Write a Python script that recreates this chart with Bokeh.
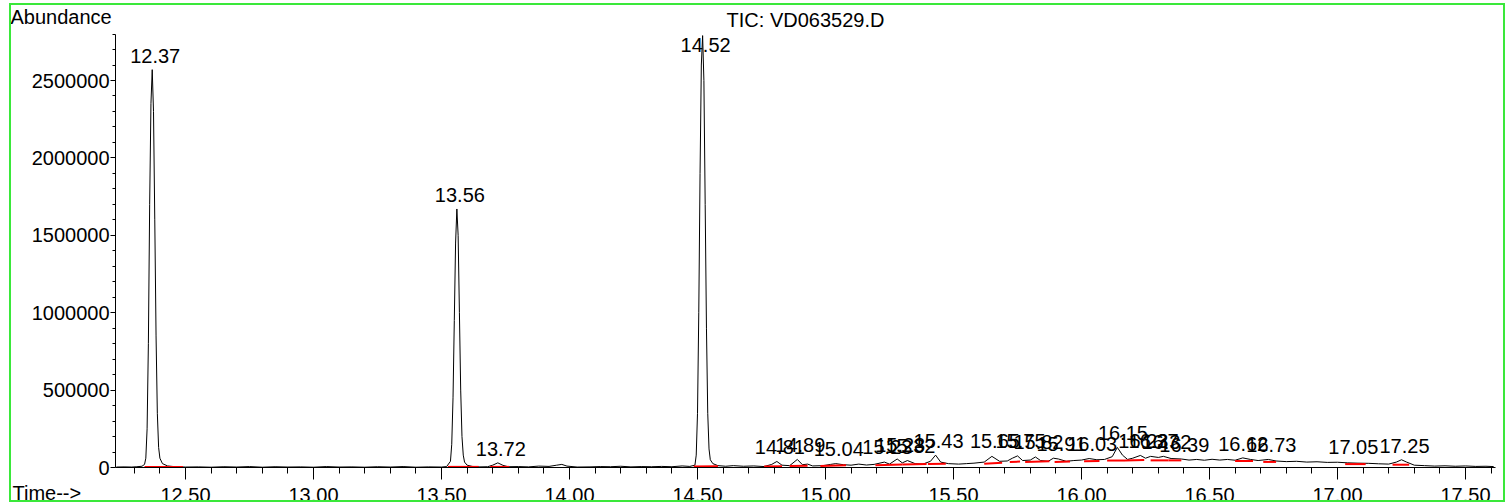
from bokeh.plotting import figure
from bokeh.models import Range1d, FixedTicker, NumeralTickFormatter, InlineStyleSheet
from bokeh.core.properties import value
from bokeh.embed import file_html
from bokeh.resources import INLINE

FONT = "Liberation Sans"
FS = "20px"

# ---------------- data ----------------
title_text = "TIC: VD063529.D"
y_title = "Abundance"
x_title = "Time-->"

x_ticks = [12.5, 13.0, 13.5, 14.0, 14.5, 15.0, 15.5, 16.0, 16.5, 17.0, 17.5]
x_minor = [12.3, 12.4, 12.6, 12.7, 12.8, 12.9, 13.1, 13.2, 13.3, 13.4, 13.6, 13.7, 13.8, 13.9,
           14.1, 14.2, 14.3, 14.4, 14.6, 14.7, 14.8, 14.9, 15.1, 15.2, 15.3, 15.4, 15.6, 15.7,
           15.8, 15.9, 16.1, 16.2, 16.3, 16.4, 16.6, 16.7, 16.8, 16.9, 17.1, 17.2, 17.3, 17.4, 17.6]
y_ticks = [0, 500000, 1000000, 1500000, 2000000, 2500000]
y_minor = [100000, 200000, 300000, 400000, 600000, 700000, 800000, 900000, 1100000, 1200000,
           1300000, 1400000, 1600000, 1700000, 1800000, 1900000, 2100000, 2200000, 2300000,
           2400000, 2600000, 2700000, 2800000]
x_axis_span = (12.227, 17.617)
y_axis_span = (0, 2800000)

trace_time = [12.23, 12.26, 12.29, 12.31, 12.33, 12.34, 12.345, 12.35, 12.355, 12.36, 12.365, 12.37,
              12.375, 12.38, 12.385, 12.39, 12.395, 12.40, 12.41, 12.43, 12.46, 12.50, 12.55, 12.60,
              12.65, 12.70, 12.75, 12.80, 12.85, 12.90, 12.95, 13.00, 13.05, 13.10, 13.15, 13.20,
              13.25, 13.30, 13.35, 13.40, 13.45, 13.50, 13.52, 13.535, 13.54, 13.545, 13.55, 13.555,
              13.56, 13.565, 13.57, 13.575, 13.58, 13.585, 13.59, 13.60, 13.62, 13.65, 13.68, 13.70,
              13.72, 13.74, 13.76, 13.80, 13.84, 13.88, 13.92, 13.95, 13.97, 13.99, 14.03, 14.08,
              14.12, 14.16, 14.20, 14.24, 14.28, 14.32, 14.36, 14.40, 14.44, 14.47, 14.49, 14.495,
              14.50, 14.505, 14.51, 14.515, 14.52, 14.525, 14.53, 14.535, 14.54, 14.545, 14.55, 14.56,
              14.58, 14.61, 14.64, 14.68, 14.72, 14.76, 14.79, 14.81, 14.83, 14.86, 14.89, 14.91,
              14.93, 14.95, 14.99, 15.02, 15.04, 15.07, 15.10, 15.13, 15.16, 15.19, 15.23, 15.25,
              15.28, 15.30, 15.32, 15.35, 15.38, 15.41, 15.43, 15.45, 15.48, 15.52, 15.55, 15.58,
              15.62, 15.65, 15.68, 15.71, 15.73, 15.75, 15.77, 15.80, 15.82, 15.84, 15.87, 15.89,
              15.91, 15.94, 15.97, 16.00, 16.03, 16.06, 16.09, 16.12, 16.14, 16.16, 16.18, 16.20,
              16.23, 16.25, 16.27, 16.30, 16.32, 16.35, 16.39, 16.42, 16.45, 16.48, 16.51, 16.54,
              16.57, 16.60, 16.63, 16.66, 16.69, 16.73, 16.76, 16.80, 16.84, 16.88, 16.92, 16.96,
              17.00, 17.04, 17.08, 17.12, 17.16, 17.20, 17.23, 17.25, 17.27, 17.30, 17.34, 17.38,
              17.42, 17.46, 17.50, 17.54, 17.58, 17.61]
trace_abund = [3000, 4000, 3000, 5000, 8000, 20000, 60000, 250000, 800000, 1700000, 2350000, 2570000,
               2300000, 1600000, 850000, 350000, 130000, 60000, 25000, 10000, 5000, 3000, 4000, 2000,
               5000, 3000, 6000, 2000, 5000, 3000, 4000, 2000, 6000, 3000, 4000, 2000,
               5000, 3000, 6000, 2000, 4000, 3000, 6000, 40000, 150000, 450000, 950000, 1450000,
               1670000, 1500000, 1000000, 500000, 200000, 80000, 35000, 15000, 7000, 4000, 5000, 15000,
               30000, 14000, 5000, 6000, 4000, 9000, 7000, 15000, 20000, 9000, 3000, 4000,
               6000, 5000, 8000, 4000, 6000, 5000, 7000, 5000, 10000, 7000, 15000, 80000,
               350000, 1000000, 1900000, 2600000, 2790000, 2500000, 1700000, 900000, 350000, 120000, 50000, 25000,
               12000, 8000, 12000, 8000, 10000, 6000, 20000, 39000, 15000, 12000, 52000, 18000,
               22000, 10000, 12000, 20000, 25000, 18000, 15000, 22000, 16000, 20000, 35000, 22000,
               55000, 30000, 45000, 25000, 22000, 40000, 80000, 35000, 25000, 22000, 25000, 28000,
               35000, 72000, 40000, 42000, 60000, 75000, 45000, 48000, 68000, 45000, 40000, 60000,
               55000, 40000, 45000, 48000, 58000, 50000, 52000, 70000, 130000, 80000, 52000, 60000,
               78000, 60000, 72000, 65000, 72000, 58000, 55000, 48000, 52000, 47000, 53000, 48000,
               52000, 47000, 62000, 52000, 45000, 52000, 42000, 38000, 40000, 35000, 37000, 33000,
               34000, 30000, 28000, 27000, 24000, 22000, 35000, 50000, 35000, 15000, 12000, 9000,
               11000, 8000, 10000, 7000, 8000, 6000]

peak_time = [12.37, 13.56, 13.72, 14.52, 14.81, 14.89, 15.04, 15.23, 15.28, 15.32, 15.43, 15.65,
             15.75, 15.82, 15.91, 16.03, 16.15, 16.23, 16.27, 16.32, 16.39, 16.62, 16.73, 17.05, 17.25]
peak_apex = [2570000, 1670000, 30000, 2790000, 39000, 52000, 30000, 39000, 55000, 50000, 80000, 78000,
             80000, 72000, 60000, 60000, 135000, 80000, 80000, 75000, 58000, 60000, 58000, 39000, 50000]

base_start = [12.34, 13.525, 13.69, 14.485, 14.76, 14.86, 14.98, 15.195, 15.30, 15.40, 15.62, 15.72,
              15.78, 15.895, 16.01, 16.10, 16.17, 16.27, 16.34, 16.60, 16.71, 17.03, 17.215]
base_end = [12.49, 13.645, 13.765, 14.58, 14.83, 14.93, 15.08, 15.30, 15.395, 15.47, 15.69, 15.76,
            15.875, 15.955, 16.07, 16.17, 16.245, 16.34, 16.39, 16.67, 16.76, 17.11, 17.28]
base_y0 = [3000, 4000, 4000, 7000, 6000, 10000, 10000, 15000, 20000, 22000, 25000, 35000,
           35000, 35000, 40000, 45000, 45000, 46000, 46000, 42000, 36000, 22000, 18000]
base_y1 = [3000, 4000, 4000, 8000, 8000, 12000, 14000, 20000, 22000, 25000, 30000, 38000,
           40000, 38000, 42000, 45000, 48000, 46000, 46000, 42000, 36000, 22000, 18000]

LABEL_CAP = 2640000

# ---------------- layout geometry (pixels) ----------------
W, H = 1512, 504
X_REF, X_REF_PX, PX_PER_X = 12.5, 185.0, 256.0
Y_ZERO_PX, PX_PER_Y = 467.0, 387.0 / 2500000.0
TEXT_FIX = 8  # text glyphs render this many px below their anchor


def xd(px):
    return X_REF + (px - X_REF_PX) / PX_PER_X


def yd(py):
    return (Y_ZERO_PX - py) / PX_PER_Y


p = figure(width=W, height=H, output_backend="svg", toolbar_location=None,
           x_range=Range1d(xd(0), xd(W)), y_range=Range1d(yd(H), yd(0)), min_border=0)
p.min_border_left = 0
p.min_border_right = 0
p.min_border_top = 0
p.min_border_bottom = 0
p.outline_line_color = None
p.grid.visible = False
p.background_fill_color = "white"
p.border_fill_color = "white"
p.stylesheets = [InlineStyleSheet(css=(
    ":host { position: relative; }"
    ":host::after { content: ''; position: absolute; left: 9px; top: 3px; width: 1496px; height: 499px;"
    " border: 2px solid #3ae83a; box-sizing: border-box; pointer-events: none; }"))]

p.xaxis.ticker = FixedTicker(ticks=x_ticks, minor_ticks=x_minor)
p.xaxis.formatter = NumeralTickFormatter(format="0.00")
p.yaxis.ticker = FixedTicker(ticks=y_ticks, minor_ticks=y_minor)
p.yaxis.formatter = NumeralTickFormatter(format="0")
p.xaxis.fixed_location = y_axis_span[0]
p.yaxis.fixed_location = x_axis_span[0]
p.xaxis.bounds = x_axis_span
p.yaxis.bounds = y_axis_span

for ax in (p.xaxis, p.yaxis):
    ax.axis_line_color = "black"
    ax.major_tick_line_color = "black"
    ax.minor_tick_line_color = "black"
    ax.major_tick_in = 0
    ax.minor_tick_in = 0
    ax.major_label_text_font = FONT
    ax.major_label_text_font_size = FS
    ax.major_label_text_color = "black"

p.xaxis.major_tick_out = 12
p.xaxis.minor_tick_out = 6
p.xaxis.major_label_standoff = 8
p.yaxis.major_tick_out = 5
p.yaxis.minor_tick_out = 3
p.yaxis.major_label_standoff = 1

p.line(trace_time, trace_abund, line_color="black", line_width=1)
p.segment(base_start, base_y0, base_end, base_y1, line_color="#ff0000", line_width=2)

# peak labels: baseline a few pixels above each apex (capped below the top of the axis)
label_x = [t + 3 / PX_PER_X for t in peak_time]
label_y = [min(a, LABEL_CAP) + (6 + TEXT_FIX) / PX_PER_Y for a in peak_apex]
label_txt = ["%.2f" % t for t in peak_time]
p.text(label_x, label_y, text=label_txt, text_align="center", text_baseline="alphabetic",
       text_font=value(FONT), text_font_size=value(FS), text_color="black")

# chart texts
p.text([xd(805)], [yd(27 - TEXT_FIX)], text=[title_text], text_align="center",
       text_baseline="alphabetic", text_font=value(FONT), text_font_size=value(FS), text_color="black")
p.text([xd(10), xd(12)], [yd(24 - TEXT_FIX), yd(500 - TEXT_FIX)], text=[y_title, x_title],
       text_align="left", text_baseline="alphabetic", text_font=value(FONT), text_font_size=value(FS),
       text_color="black")

open("out.html", "w").write(file_html(p, INLINE))
